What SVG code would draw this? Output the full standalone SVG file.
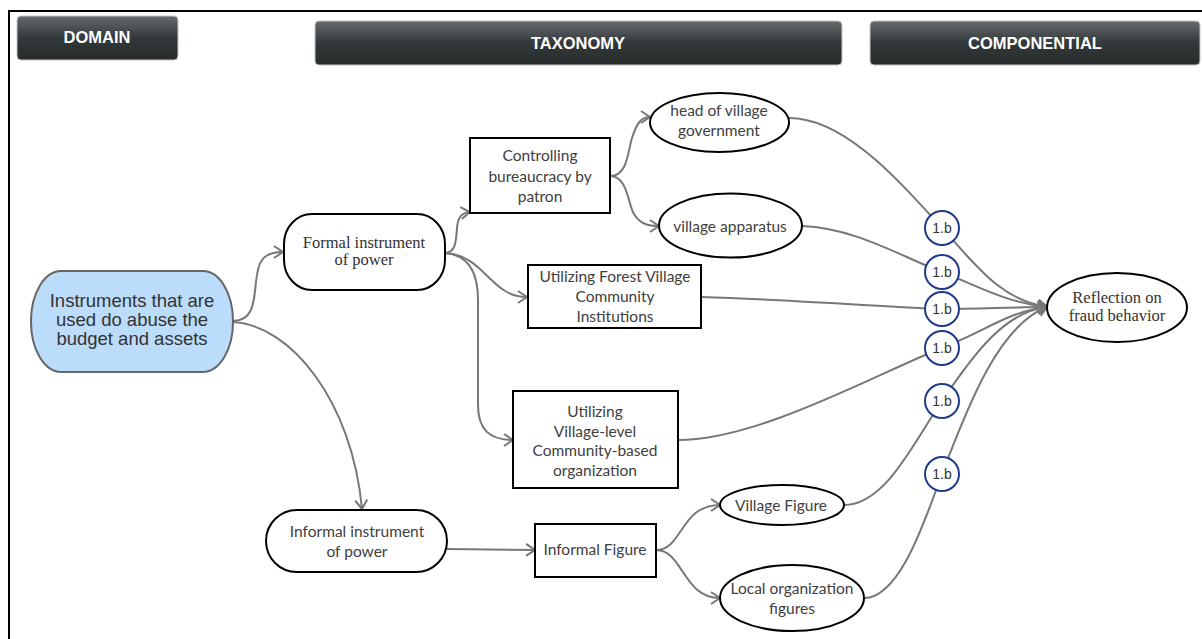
<svg xmlns="http://www.w3.org/2000/svg" width="1202" height="639" viewBox="0 0 1202 639">
  <style>
    .hdr { stroke: #c4c6c8; stroke-width: 1; }
    .hdr-t { font-family: "Liberation Sans", Arial, sans-serif; font-weight: bold; font-size: 16.5px; fill: #ffffff; text-anchor: middle; }
    .box { fill: #ffffff; stroke: #000000; stroke-width: 2; }
    .cal { font-family: Lato, "Open Sans", sans-serif; font-size: 15.5px; fill: #404040; text-anchor: middle; }
    .ser { font-family: "Liberation Serif", "Times New Roman", serif; font-size: 16.5px; fill: #333333; text-anchor: middle; }
    .root-t { font-family: "Liberation Sans", Arial, sans-serif; font-size: 18.5px; fill: #333333; text-anchor: middle; }
    .edge { fill: none; stroke: #777777; stroke-width: 2; }
    .tag { fill: #ffffff; stroke: #1f3a8f; stroke-width: 2; }
    .tag-t { font-family: "Liberation Sans", Arial, sans-serif; font-size: 14px; fill: #333333; text-anchor: middle; }
  </style>
  <defs>
    <linearGradient id="hdrFill" x1="0" y1="0" x2="0" y2="1">
      <stop offset="0" stop-color="#676b6e"/>
      <stop offset="0.5" stop-color="#33383a"/>
      <stop offset="1" stop-color="#262b2b"/>
    </linearGradient>
    <marker id="arrow" markerUnits="userSpaceOnUse" markerWidth="14" markerHeight="16" refX="10" refY="7" orient="auto">
      <path d="M1,1 L10,7 L1,13" fill="none" stroke="#777777" stroke-width="2"/>
    </marker>
  </defs>

  <rect width="1202" height="639" fill="#ffffff"/>
  <!-- frame -->
  <path d="M9,639 L9,11 L1202,11" fill="none" stroke="#000000" stroke-width="2"/>

  <!-- column headers -->
  <g id="hdr-domain">
    <rect class="hdr" x="17" y="16" width="161" height="44" rx="4" fill="url(#hdrFill)"/>
    <text class="hdr-t" x="97" y="43">DOMAIN</text>
  </g>
  <g id="hdr-taxonomy">
    <rect class="hdr" x="315" y="21" width="527" height="44" rx="4" fill="url(#hdrFill)"/>
    <text class="hdr-t" x="578" y="49">TAXONOMY</text>
  </g>
  <g id="hdr-componential">
    <rect class="hdr" x="870" y="21" width="330" height="44" rx="4" fill="url(#hdrFill)"/>
    <text class="hdr-t" x="1035" y="49">COMPONENTIAL</text>
  </g>

  <!-- connectors -->
  <g id="connectors">
    <path class="edge" marker-end="url(#arrow)" d="M233,321 C254,321 254,300 256,282 C258,262 262,252 283,252"/>
    <path class="edge" marker-end="url(#arrow)" d="M233,322 C290,325 352,400 362,509"/>
    <path class="edge" marker-end="url(#arrow)" d="M445,253 C456,253 456,240 457,228 C458,216 462,213 470,212"/>
    <path class="edge" marker-end="url(#arrow)" d="M445,253 C485,255 490,297 527,297"/>
    <path class="edge" marker-end="url(#arrow)" d="M445,253 C470,255 478,275 478,300 L478,405 C478,430 490,440 513,440"/>
    <path class="edge" marker-end="url(#arrow)" d="M610,176 C628,176 628,150 632,138 C637,122 642,117 650,117"/>
    <path class="edge" marker-end="url(#arrow)" d="M610,176 C628,176 628,205 634,214 C640,224 648,226 659,226"/>
    <path class="edge" marker-end="url(#arrow)" d="M447,549 L535,550"/>
    <path class="edge" marker-end="url(#arrow)" d="M656,550 C683,550 680,505 720,505"/>
    <path class="edge" marker-end="url(#arrow)" d="M656,550 C683,550 683,598 720,598"/>

    <path class="edge" marker-end="url(#arrow)" d="M789,118 C845,118 900,182 942,228 C975,264 1000,300 1047,307"/>
    <path class="edge" marker-end="url(#arrow)" d="M802,226 C855,228 900,256 942,272 C980,287 1005,302 1047,307"/>
    <path class="edge" marker-end="url(#arrow)" d="M701,297 C800,300 900,308 942,309 C980,309 1010,307 1047,307"/>
    <path class="edge" marker-end="url(#arrow)" d="M678,440 C760,440 880,372 942,348 C985,331 1010,311 1047,307"/>
    <path class="edge" marker-end="url(#arrow)" d="M844,505 C885,505 912,445 942,401 C975,352 1005,312 1047,307"/>
    <path class="edge" marker-end="url(#arrow)" d="M864,598 C900,598 925,520 942,474 C970,400 1000,325 1047,307"/>

    <g id="tags">
      <circle class="tag" cx="942" cy="228" r="17"/>
      <text class="tag-t" x="942" y="233">1.b</text>
      <circle class="tag" cx="942" cy="272" r="17"/>
      <text class="tag-t" x="942" y="277">1.b</text>
      <circle class="tag" cx="942" cy="309" r="17"/>
      <text class="tag-t" x="942" y="314">1.b</text>
      <circle class="tag" cx="942" cy="348" r="17"/>
      <text class="tag-t" x="942" y="353">1.b</text>
      <circle class="tag" cx="942" cy="401" r="17"/>
      <text class="tag-t" x="942" y="406">1.b</text>
      <circle class="tag" cx="942" cy="474" r="17"/>
      <text class="tag-t" x="942" y="479">1.b</text>
    </g>
  </g>

  <!-- nodes -->
  <g id="n-instruments">
    <rect x="31" y="271" width="202" height="101" rx="30" ry="50" fill="#bcdcfb" stroke="#666666" stroke-width="2"/>
    <text class="root-t" x="132" y="307">Instruments that are</text>
    <text class="root-t" x="132" y="326">used do abuse the</text>
    <text class="root-t" x="132" y="345">budget and assets</text>
  </g>
  <g id="n-formal">
    <rect class="box" x="284" y="214" width="161" height="76" rx="28" ry="30"/>
    <text class="ser" x="364" y="248">Formal instrument</text>
    <text class="ser" x="364" y="265">of power</text>
  </g>
  <g id="n-informal">
    <rect class="box" x="266" y="510" width="181" height="62" rx="31" ry="31"/>
    <text class="cal" x="357" y="537">Informal instrument</text>
    <text class="cal" x="357" y="557">of power</text>
  </g>
  <g id="n-controlling">
    <rect class="box" x="470" y="138" width="140" height="75"/>
    <text class="cal" x="540" y="161">Controlling</text>
    <text class="cal" x="540" y="182">bureaucracy by</text>
    <text class="cal" x="540" y="202">patron</text>
  </g>
  <g id="n-forest">
    <rect class="box" x="528" y="265" width="173" height="63"/>
    <text class="cal" x="615" y="282">Utilizing Forest Village</text>
    <text class="cal" x="615" y="302">Community</text>
    <text class="cal" x="615" y="322">Institutions</text>
  </g>
  <g id="n-village-level">
    <rect class="box" x="513" y="391" width="165" height="97"/>
    <text class="cal" x="595" y="417">Utilizing</text>
    <text class="cal" x="595" y="437">Village-level</text>
    <text class="cal" x="595" y="456">Community-based</text>
    <text class="cal" x="595" y="476">organization</text>
  </g>
  <g id="n-informal-figure">
    <rect class="box" x="535" y="524" width="121" height="53"/>
    <text class="cal" x="595" y="555">Informal Figure</text>
  </g>
  <g id="n-head">
    <ellipse class="box" cx="719.5" cy="122.5" rx="69.5" ry="29.5"/>
    <text class="cal" x="719" y="116">head of village</text>
    <text class="cal" x="719" y="136">government</text>
  </g>
  <g id="n-apparatus">
    <ellipse class="box" cx="730.5" cy="225.5" rx="71.5" ry="32"/>
    <text class="cal" x="730" y="232">village apparatus</text>
  </g>
  <g id="n-village-figure">
    <ellipse class="box" cx="782" cy="505" rx="62" ry="20"/>
    <text class="cal" x="781" y="511">Village Figure</text>
  </g>
  <g id="n-local">
    <ellipse class="box" cx="792" cy="598" rx="72" ry="33"/>
    <text class="cal" x="792" y="594">Local organization</text>
    <text class="cal" x="792" y="614">figures</text>
  </g>
  <g id="n-reflection">
    <ellipse class="box" cx="1117" cy="307.5" rx="70" ry="34.5"/>
    <text class="ser" x="1117" y="303">Reflection on</text>
    <text class="ser" x="1117" y="321">fraud behavior</text>
  </g>
</svg>
